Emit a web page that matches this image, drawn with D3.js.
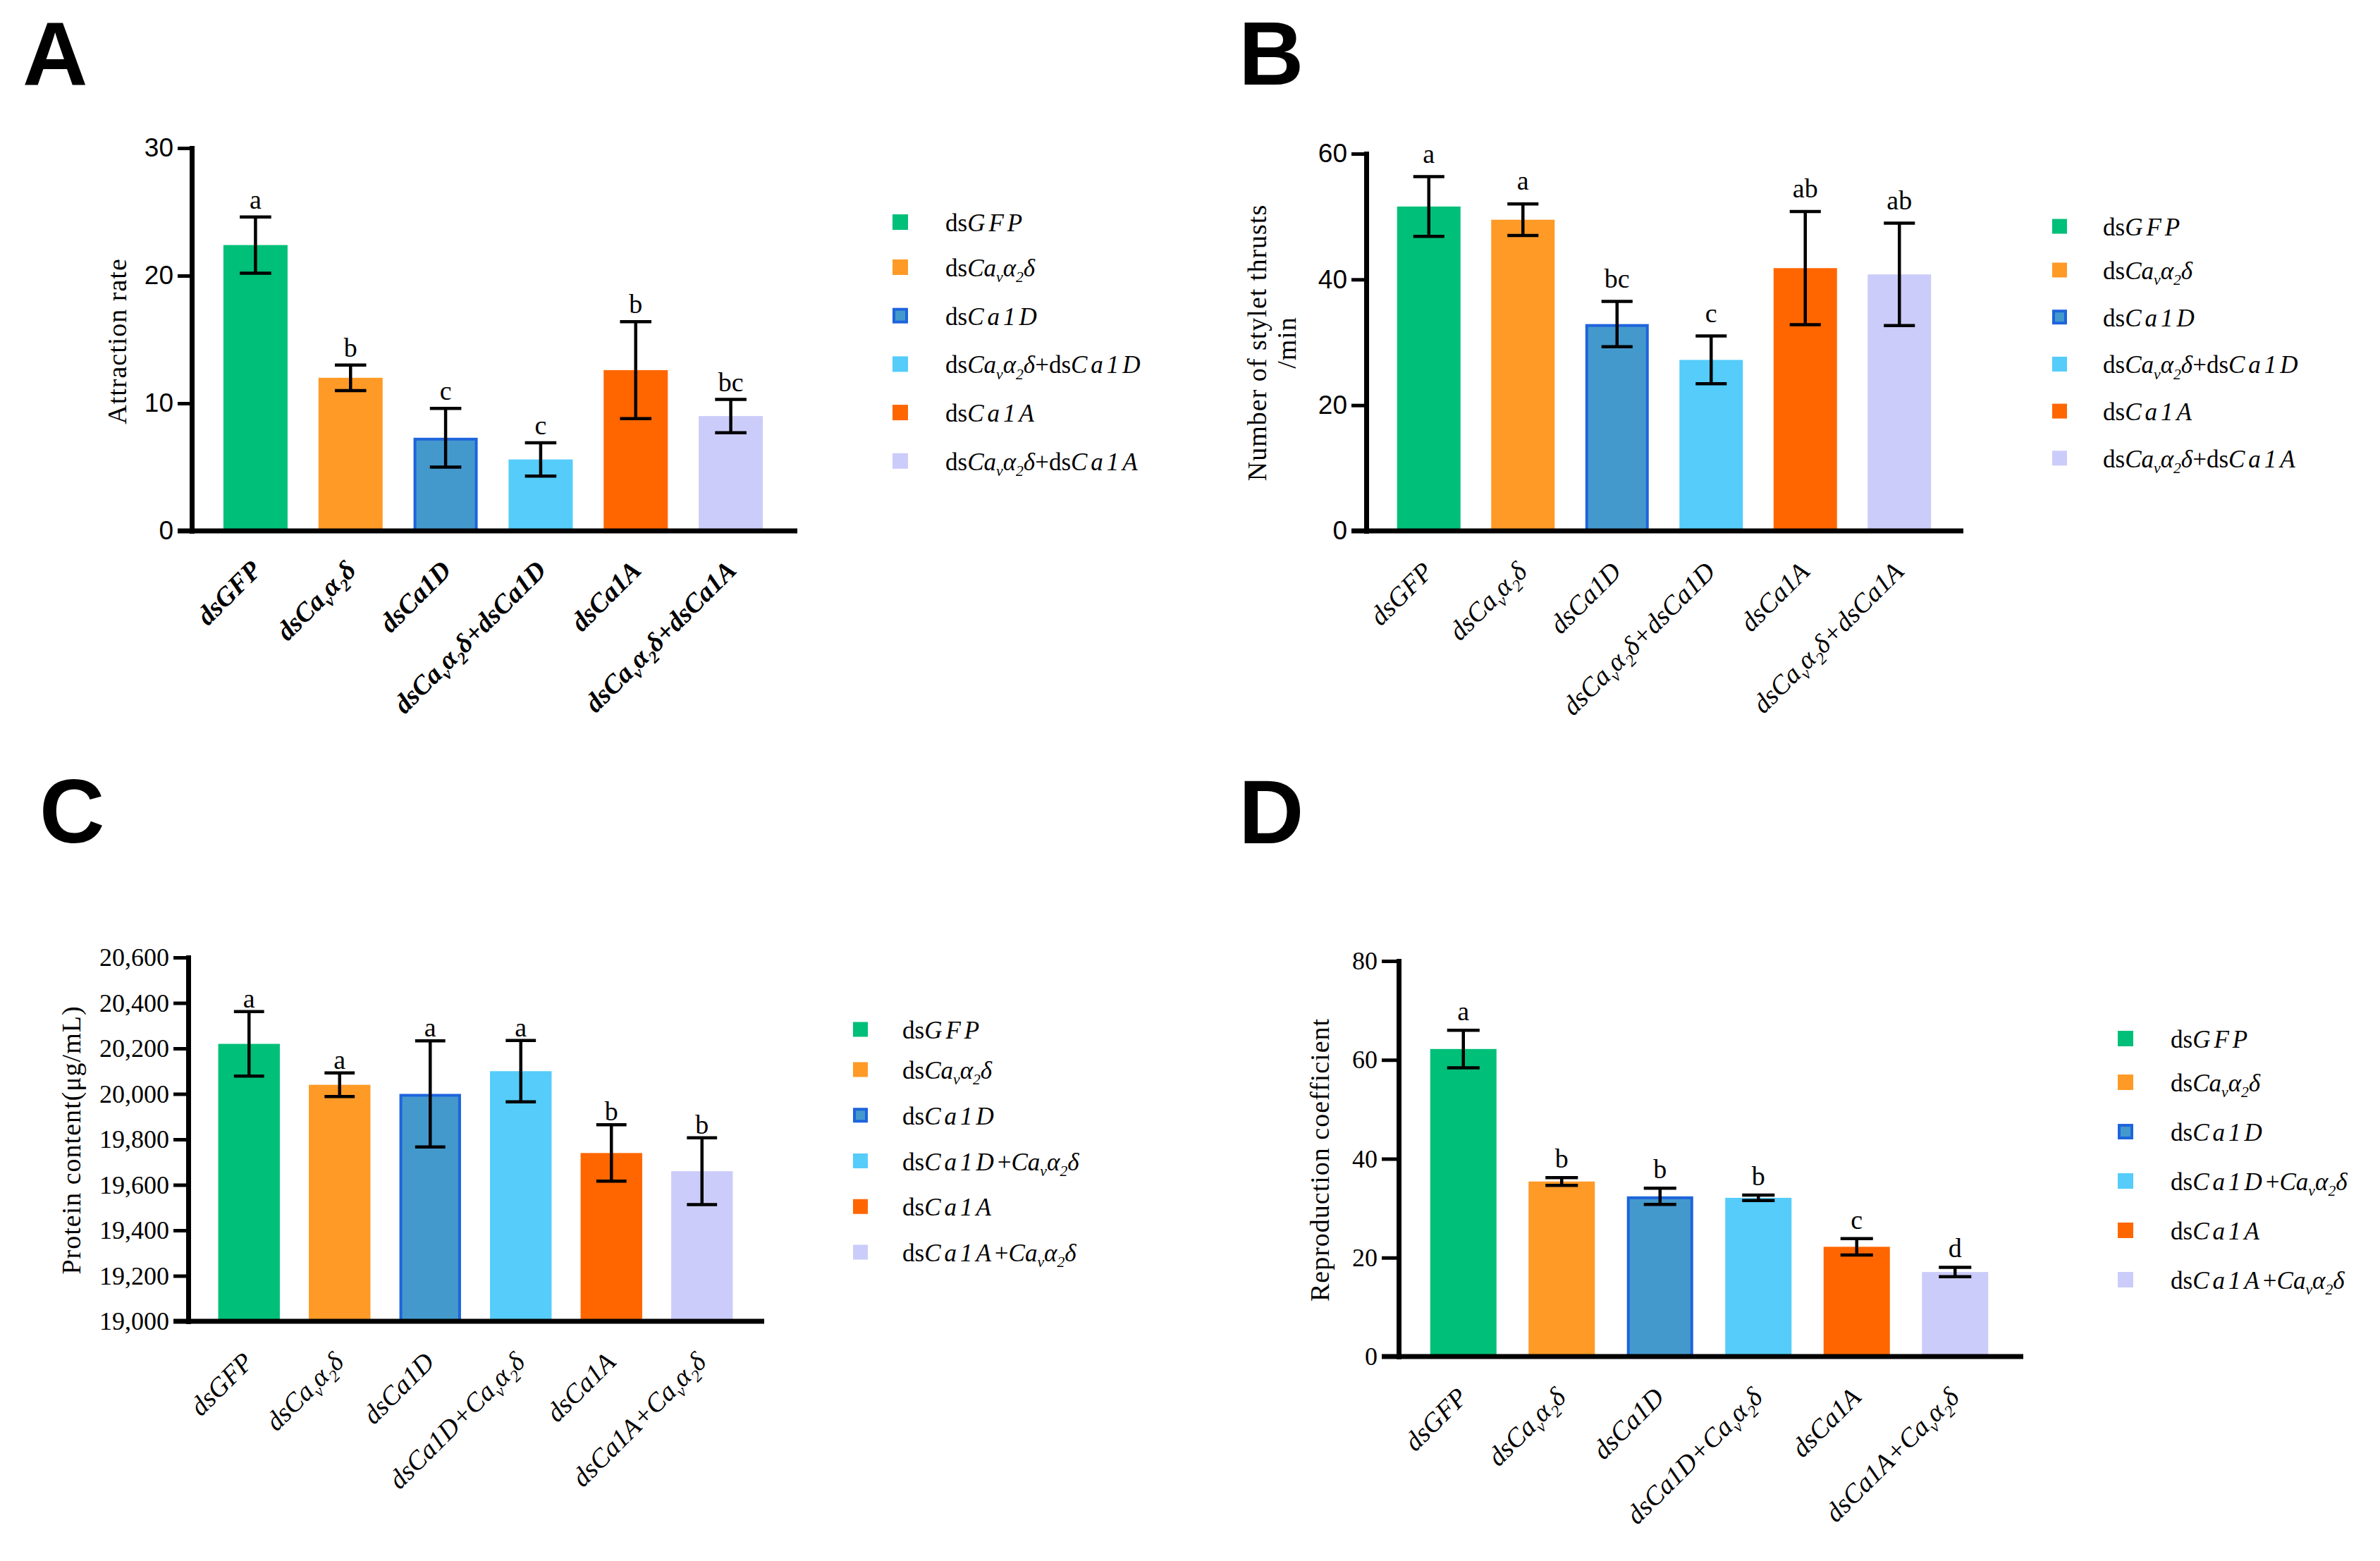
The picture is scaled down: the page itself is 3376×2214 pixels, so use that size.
<!DOCTYPE html>
<html><head><meta charset="utf-8">
<script src="https://cdn.jsdelivr.net/npm/d3@7"></script>
<style>body{margin:0;background:#fff} svg{display:block}</style>
</head><body>
<svg id="fig" width="3376" height="2214"></svg>
<script>
// ---------- DATA ----------
// label markup segments: [text, flags]  flags: i = italic, s = subscript
const segGFP   = [["ds",""],["GFP","i"]];
const segCav   = [["ds",""],["Ca","i"],["v","is"],["α","i"],["2","is"],["δ","i"]];
const segCa1D  = [["ds",""],["Ca1D","i"]];
const segCa1A  = [["ds",""],["Ca1A","i"]];
const segCavCa1D = [["ds",""],["Ca","i"],["v","is"],["α","i"],["2","is"],["δ","i"],["+",""],["ds",""],["Ca1D","i"]];
const segCavCa1A = [["ds",""],["Ca","i"],["v","is"],["α","i"],["2","is"],["δ","i"],["+",""],["ds",""],["Ca1A","i"]];
const segCa1DCav = [["ds",""],["Ca1D","i"],["+",""],["Ca","i"],["v","is"],["α","i"],["2","is"],["δ","i"]];
const segCa1ACav = [["ds",""],["Ca1A","i"],["+",""],["Ca","i"],["v","is"],["α","i"],["2","is"],["δ","i"]];

const groupsAB = ["dsGFP","dsCavα2δ","dsCa1D","dsCavα2δ+dsCa1D","dsCa1A","dsCavα2δ+dsCa1A"];
const groupsCD = ["dsGFP","dsCavα2δ","dsCa1D","dsCa1D+Cavα2δ","dsCa1A","dsCa1A+Cavα2δ"];
const labelSegsAB = [segGFP, segCav, segCa1D, segCavCa1D, segCa1A, segCavCa1A];
const labelSegsCD = [segGFP, segCav, segCa1D, segCa1DCav, segCa1A, segCa1ACav];

const barColors  = ["#00BF78","#FF9A26","#4499CC","#55CCFA","#FF6600","#CCCCFA"];
const barStrokes = [null, null, "#1E64DC", null, null, null];

// Panel A: Attraction rate
const attractionMean = [22.4, 12.0, 7.3, 5.6, 12.6, 9.0];
const attractionErr  = [2.2, 1.0, 2.3, 1.3, 3.8, 1.3];
const attractionSig  = ["a","b","c","c","b","bc"];
const attractionTicks = [0, 10, 20, 30];

// Panel B: Number of stylet thrusts /min
const thrustMean = [51.6, 49.5, 32.9, 27.2, 41.8, 40.8];
const thrustErr  = [4.75, 2.5, 3.6, 3.8, 9.0, 8.15];
const thrustSig  = ["a","a","bc","c","ab","ab"];
const thrustTicks = [0, 20, 40, 60];

// Panel C: Protein content (μg/mL)
const proteinMean = [20220, 20040, 20000, 20100, 19740, 19660];
const proteinErr  = [142, 52, 233, 135, 124, 147];
const proteinSig  = ["a","a","a","a","b","b"];
const proteinTicks = [19000, 19200, 19400, 19600, 19800, 20000, 20200, 20400, 20600];

// Panel D: Reproduction coefficient
const reproMean = [62.2, 35.4, 32.4, 32.1, 22.2, 17.1];
const reproErr  = [3.8, 0.8, 1.65, 0.55, 1.65, 0.95];
const reproSig  = ["a","b","b","b","c","d"];
const reproTicks = [0, 20, 40, 60, 80];

// ---------- DRAW ----------
const svg = d3.select("#fig");
svg.append("rect").attr("width",3376).attr("height",2214).attr("fill","#fff");
const SERIF = "'Liberation Serif','Times New Roman',Times,serif";
const SANS  = "'Liberation Sans',Arial,Helvetica,sans-serif";

function rich(textSel, segs, fs, opts) {
  let shifted = false;
  segs.forEach(([t, f]) => {
    const ts = textSel.append("tspan").text(t);
    const italic = opts.allItalic || f.includes("i");
    ts.attr("font-style", italic ? "italic" : "normal");
    if (opts.bold) ts.attr("font-weight", "bold");
    if (f.includes("s")) {
      ts.attr("font-size", fs * 0.62);
      if (!shifted) { ts.attr("dy", fs * 0.24); shifted = true; }
    } else {
      ts.attr("font-size", fs);
      if (shifted) { ts.attr("dy", -fs * 0.24); shifted = false; }
    }
    if (opts.spaced && f === "i" && t.length >= 3) ts.attr("letter-spacing", 5);
  });
}

function panel(cfg) {
  const g = svg.append("g");
  const x = d3.scaleBand().domain(cfg.groups).range(cfg.band)
    .paddingInner(cfg.pi).paddingOuter(cfg.pi / 2);
  const y = d3.scaleLinear().domain(cfg.domain).range([cfg.yBot, cfg.yTop]);
  const bw = x.bandwidth();
  const rows = cfg.groups.map((k, i) => ({k, i, m: cfg.mean[i], e: cfg.err[i], s: cfg.sig[i]}));

  // bars
  g.selectAll("rect.bar").data(rows).join("rect").attr("class","bar")
    .attr("x", d => x(d.k) + (barStrokes[d.i] ? 2 : 0))
    .attr("width", d => bw - (barStrokes[d.i] ? 4 : 0))
    .attr("y", d => y(d.m) + (barStrokes[d.i] ? 2 : 0))
    .attr("height", d => y(cfg.domain[0]) - y(d.m) - (barStrokes[d.i] ? 2 : 0))
    .attr("fill", d => barColors[d.i])
    .attr("stroke", d => barStrokes[d.i] || "none")
    .attr("stroke-width", 4);

  // error bars
  const cap = bw * 0.49;
  const eb = g.selectAll("g.eb").data(rows).join("g").attr("class","eb")
    .attr("stroke","#000").attr("stroke-width",4.5);
  eb.append("line").attr("x1", d => x(d.k)+bw/2).attr("x2", d => x(d.k)+bw/2)
    .attr("y1", d => y(d.m - d.e)).attr("y2", d => y(d.m + d.e));
  eb.append("line").attr("x1", d => x(d.k)+bw/2-cap/2).attr("x2", d => x(d.k)+bw/2+cap/2)
    .attr("y1", d => y(d.m + d.e)).attr("y2", d => y(d.m + d.e));
  eb.append("line").attr("x1", d => x(d.k)+bw/2-cap/2).attr("x2", d => x(d.k)+bw/2+cap/2)
    .attr("y1", d => y(d.m - d.e)).attr("y2", d => y(d.m - d.e));

  // significance letters
  g.selectAll("text.sig").data(rows).join("text").attr("class","sig")
    .attr("x", d => x(d.k)+bw/2).attr("y", d => y(d.m + d.e) - cfg.letterGap)
    .attr("text-anchor","middle").attr("font-family", SERIF).attr("font-size", 38)
    .text(d => d.s);

  // y axis
  const ax = g.append("g").attr("transform", `translate(${cfg.ax},0)`)
    .call(d3.axisLeft(y).tickValues(cfg.ticks).tickSize(cfg.tickLen).tickSizeOuter(0)
      .tickPadding(6).tickFormat(cfg.fmt));
  ax.select(".domain").attr("stroke-width", 7).attr("stroke","#000").attr("stroke-linecap","square");
  ax.selectAll(".tick line").attr("stroke-width", 5).attr("stroke","#000");
  ax.selectAll(".tick text").attr("font-family", cfg.tickFamily).attr("font-size", cfg.tickSize)
    .attr("fill","#000");

  // x axis line
  g.append("line").attr("x1", cfg.ax - cfg.tickLen).attr("x2", cfg.xEnd)
    .attr("y1", y(cfg.domain[0])).attr("y2", y(cfg.domain[0]))
    .attr("stroke","#000").attr("stroke-width",7);

  // x labels
  g.selectAll("text.xl").data(rows).join("text").attr("class","xl")
    .attr("text-anchor","end").attr("font-family", SERIF)
    .attr("transform", d => `translate(${x(d.k)+bw/2+cfg.xlDx},${y(cfg.domain[0])+cfg.xlDy}) rotate(-45)`)
    .each(function(d){ rich(d3.select(this), cfg.labelSegs[d.i], 38, {allItalic:true, bold:cfg.xlBold}); });

  // y title
  cfg.title.forEach(t => {
    g.append("text").attr("transform", `translate(${t.x},${cfg.titleCY}) rotate(-90)`)
      .attr("text-anchor","middle").attr("font-family", SERIF).attr("font-size", 38)
      .attr("letter-spacing", 1).text(t.text);
  });

  // legend
  const rowY = i => cfg.lgY0 + (i > 0 ? cfg.lgFirst + (i - 1) * cfg.lgDy : 0);
  const lg = g.selectAll("g.lg").data(rows).join("g").attr("class","lg")
    .attr("transform", d => `translate(0,${rowY(d.i)})`);
  lg.append("rect").attr("x", d => cfg.lgX + (barStrokes[d.i]?2:0)).attr("y", d => -cfg.lgS/2 + (barStrokes[d.i]?2:0))
    .attr("width", d => cfg.lgS - (barStrokes[d.i]?4:0)).attr("height", d => cfg.lgS - (barStrokes[d.i]?4:0))
    .attr("fill", d => barColors[d.i]).attr("stroke", d => barStrokes[d.i] || "none").attr("stroke-width",4);
  lg.append("text").attr("x", cfg.lgTX).attr("y", 13).attr("font-family", SERIF)
    .each(function(d){ rich(d3.select(this), cfg.labelSegs[d.i], 35, {spaced:true}); });

  // panel letter
  svg.append("text").attr("x", cfg.letter.x).attr("y", cfg.letter.y)
    .attr("font-family", SANS).attr("font-weight","bold").attr("font-size",128).text(cfg.letter.t);
}

const fmtInt = d3.format("d");
const fmtComma = d3.format(",");

panel({groups: groupsAB, labelSegs: labelSegsAB, mean: attractionMean, err: attractionErr, sig: attractionSig,
  ticks: attractionTicks, domain: [0,30], fmt: fmtInt,
  ax: 272, yTop: 210, yBot: 753, xEnd: 1131, band: [295,1104], pi: 0.325, tickLen: 20,
  tickFamily: SANS, tickSize: 37, letterGap: 12, xlDx: 10, xlDy: 58, xlBold: true,
  title: [{text:"Attraction rate", x:179}], titleCY: 484,
  lgX: 1266, lgS: 22, lgY0: 315, lgFirst: 64, lgDy: 68.7, lgTX: 1341, letter: {t:"A", x:32, y:121}});

panel({groups: groupsAB, labelSegs: labelSegsAB, mean: thrustMean, err: thrustErr, sig: thrustSig,
  ticks: thrustTicks, domain: [0,60], fmt: fmtInt,
  ax: 1938, yTop: 218, yBot: 753, xEnd: 2785, band: [1960,2761], pi: 0.326, tickLen: 21,
  tickFamily: SANS, tickSize: 37, letterGap: 20, xlDx: 8, xlDy: 60, xlBold: false,
  title: [{text:"Number of stylet thrusts", x:1796},{text:"/min", x:1838}], titleCY: 486,
  lgX: 2911, lgS: 21, lgY0: 321, lgFirst: 62, lgDy: 66.7, lgTX: 2983, letter: {t:"B", x:1757, y:120}});

panel({groups: groupsCD, labelSegs: labelSegsCD, mean: proteinMean, err: proteinErr, sig: proteinSig,
  ticks: proteinTicks, domain: [19000,20600], fmt: fmtComma,
  ax: 267, yTop: 1358, yBot: 1874, xEnd: 1084, band: [289,1060], pi: 0.32, tickLen: 21,
  tickFamily: SERIF, tickSize: 36, letterGap: 6, xlDx: 8, xlDy: 60, xlBold: false,
  title: [{text:"Protein content(μg/mL)", x:114}], titleCY: 1617,
  lgX: 1210, lgS: 21, lgY0: 1460, lgFirst: 57, lgDy: 64.75, lgTX: 1280, letter: {t:"C", x:56, y:1195}});

panel({groups: groupsCD, labelSegs: labelSegsCD, mean: reproMean, err: reproErr, sig: reproSig,
  ticks: reproTicks, domain: [0,80], fmt: fmtInt,
  ax: 1984, yTop: 1363, yBot: 1924, xEnd: 2870, band: [2006,2843], pi: 0.326, tickLen: 24,
  tickFamily: SERIF, tickSize: 36, letterGap: 14, xlDx: 8, xlDy: 60, xlBold: false,
  title: [{text:"Reproduction coefficient", x:1885}], titleCY: 1645,
  lgX: 3004, lgS: 22, lgY0: 1473, lgFirst: 62, lgDy: 70, lgTX: 3079, letter: {t:"D", x:1757, y:1196}});
</script>
</body></html>
